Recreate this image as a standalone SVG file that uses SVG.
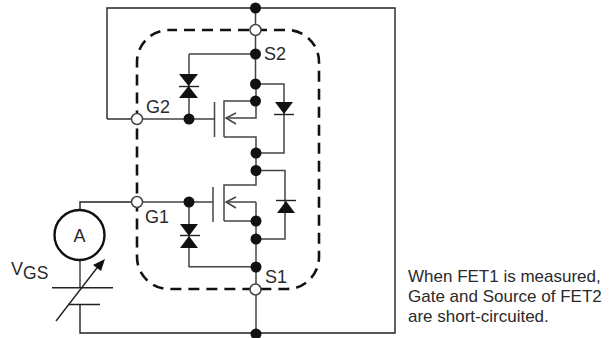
<svg xmlns="http://www.w3.org/2000/svg" width="615" height="338" viewBox="0 0 615 338">
<defs>
<style>
.w{fill:none;stroke:#444;stroke-width:1.5}
.k{fill:none;stroke:#222;stroke-width:1.4}
.d{fill:#111;stroke:none}
.o{fill:#fff;stroke:#444;stroke-width:1.5}
.t{font-family:"Liberation Sans",Arial,sans-serif;fill:#2a2a2a}
</style>
<circle id="dot" r="5.5" class="d"/>
<circle id="open" r="5.5" class="o"/>
</defs>
<rect width="615" height="338" fill="#fff"/>
<g id="boundary"><rect x="137" y="30" width="182" height="259" rx="32" ry="32" fill="none" stroke="#111" stroke-width="2.6" stroke-dasharray="11 7" stroke-dashoffset="3"/></g>
<g id="connectors">
<path class="k" d="M107 119V8H395V333H80V305"/>
<path class="k" d="M107 119H137"/>
<path class="w" d="M255.500 8V84M256 84V101M189 54H255.500M189 54V119M137 119H214"/>
<path class="w" d="M256 153V170M256 221V334M189 202V266.700H256M137 202H213"/>
<path class="k" d="M137 202H80V210"/>
<path class="w" d="M80 260V288"/>
</g>
<g id="fet2">
<path class="w" d="M214.500 102V137M224 137V101H256V118H227"/>
<path class="w" d="M224 137H256V153M236 113L226 118L236 124"/>
<path class="w" d="M256 84H284V153H256"/>
<polygon class="d" points="275,102 293,102 284,114"/>
<path class="k" d="M274 114.500H294"/>
</g>
<g id="fet1">
<path class="w" d="M213 187V222M224 221V185H256V170M256 202H227M256 202V221H224"/>
<path class="w" d="M236 197L226 202L236 208"/>
<path class="w" d="M256 170.500H285V239H256"/>
<polygon class="d" points="286,201 277,213 295,213"/>
<path class="k" d="M276 200.500H296"/>
</g>
<g id="zener2">
<polygon class="d" points="179,74 198,74 188.500,86"/>
<polygon class="d" points="179,98 198,98 188.500,86"/>
<path class="k" d="M179 86.500H199"/>
</g>
<g id="zener1">
<polygon class="d" points="180,224 198,224 189,236"/>
<polygon class="d" points="180,248 198,248 189,236"/>
<path class="k" d="M180 235.500H200"/>
</g>
<g id="junctions">
<use href="#dot" x="255.500" y="8"/>
<use href="#dot" x="255.500" y="54"/>
<use href="#dot" x="255.500" y="84"/>
<use href="#dot" x="255.500" y="101"/>
<use href="#dot" x="256" y="153"/>
<use href="#dot" x="256" y="170.500"/>
<use href="#dot" x="256" y="221"/>
<use href="#dot" x="256" y="239"/>
<use href="#dot" x="256" y="267"/>
<use href="#dot" x="256" y="334"/>
<use href="#dot" x="189" y="119"/>
<use href="#dot" x="189" y="202"/>
</g>
<g id="terminal-s2"><use href="#open" x="255.500" y="30"/><text class="t" x="264" y="59.500" font-size="18">S2</text></g>
<g id="terminal-g2"><use href="#open" x="137" y="119"/><text class="t" x="146" y="112.500" font-size="18">G2</text></g>
<g id="terminal-g1"><use href="#open" x="137" y="202"/><text class="t" x="145" y="223" font-size="18">G1</text></g>
<g id="terminal-s1"><use href="#open" x="255.500" y="289.500"/><text class="t" x="265" y="283" font-size="18">S1</text></g>
<g id="ammeter">
<circle cx="79.500" cy="235" r="25" fill="#fff" stroke="#111" stroke-width="2.4"/>
<text class="t" x="79.500" y="242" font-size="18" text-anchor="middle">A</text>
</g>
<g id="vgs-source">
<path class="k" d="M52 287.700H113M68 304.500H100"/>
<path class="k" d="M56 321L100 264"/>
<polygon class="d" points="105,259 101,271 93,265"/>
<text class="t" x="11" y="275" font-size="18">V<tspan font-size="17.500" dy="4">GS</tspan></text>
</g>
<g id="caption">
<text class="t" x="408" y="282" font-size="17">When FET1 is measured,</text>
<text class="t" x="408" y="302" font-size="17">Gate and Source of FET2</text>
<text class="t" x="408" y="322" font-size="17">are short-circuited.</text>
</g>
</svg>
